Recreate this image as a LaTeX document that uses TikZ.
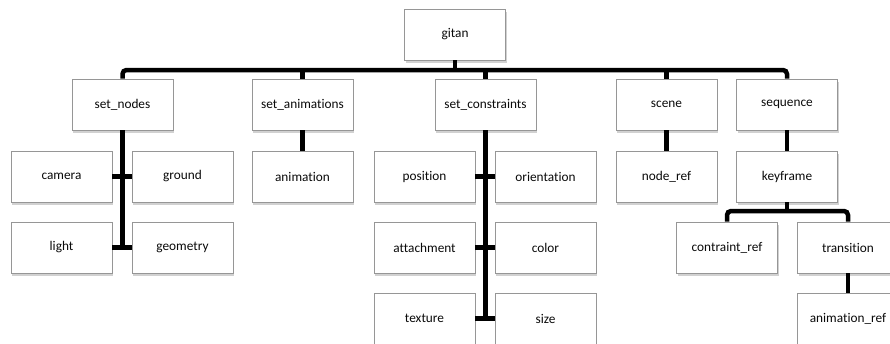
\documentclass[tikz,border=0pt]{standalone}
\usepackage{fontspec}
\setmainfont[Ligatures=NoCommon]{Carlito}
\usetikzlibrary{shadows}
\definecolor{boxborder}{RGB}{150,150,150}
\definecolor{txt}{RGB}{10,10,10}
\tikzset{
  box/.style={draw=boxborder, line width=0.8pt, fill=white, minimum width=101pt, minimum height=51pt,
    inner sep=0pt, font=\fontsize{13.3}{15}\selectfont, text=txt,
    drop shadow={shadow xshift=1pt, shadow yshift=-3pt, opacity=0.3, fill=black!60}},
  conn/.style={line width=4.5pt, black},
}
\begin{document}
\begin{tikzpicture}[x=1pt,y=-1pt]
\useasboundingbox (0,0) rectangle (890,343);
\clip (0,0) rectangle (890,343);
% level 0
\node[box] (gitan) at (455,34.5) {gitan};
% level 1
\node[box] (setnodes) at (122.5,104.5) {set\_nodes};
\node[box] (setanim) at (302.5,104.5) {set\_animations};
\node[box] (setcons) at (485.5,104.5) {set\_constraints};
\node[box] (scene) at (666.5,104.5) {scene};
\node[box] (sequence) at (787,104.5) {sequence};
% set_nodes children
\node[box] (camera) at (61.5,176.5) {camera};
\node[box] (ground) at (182.5,176.5) {ground};
\node[box] (light) at (61.5,247.5) {light};
\node[box] (geometry) at (182.5,247.5) {geometry};
% set_animations child
\node[box] (animation) at (302.5,176.5) {animation};
% set_constraints children
\node[box] (position) at (424.5,176.5) {position};
\node[box] (orientation) at (545.5,176.5) {orientation};
\node[box] (attachment) at (424.5,247.5) {attachment};
\node[box] (color) at (545.5,247.5) {color};
\node[box] (texture) at (424.5,318.5) {texture};
\node[box] (size) at (545.5,318.5) {size};
% scene child
\node[box] (noderef) at (666.5,176.5) {node\_ref};
% sequence children
\node[box] (keyframe) at (787,176.5) {keyframe};
\node[box] (contraintref) at (727,247.5) {contraint\_ref};
\node[box] (transition) at (848,247.5) {transition};
\node[box] (animref) at (848,318.5) {animation\_ref};
% connectors level 0-1
\coordinate (bar) at (455,70);
\draw[conn, rounded corners=4pt] (setnodes.north) |- (bar) -| (sequence.north);
\draw[conn] (gitan.south) -- (bar);
\draw[conn] (setanim.north) -- (setanim.north |- bar);
\draw[conn] (setcons.north) -- (setcons.north |- bar);
\draw[conn] (scene.north) -- (scene.north |- bar);
% set_nodes
\draw[conn] (setnodes.south) -- (setnodes.south |- light.east);
\draw[conn] (camera.east) -- (ground.west);
\draw[conn] (light.east) -- (geometry.west);
% set_animations
\draw[conn] (setanim.south) -- (animation.north);
% set_constraints
\draw[conn] (setcons.south) -- (setcons.south |- texture.east);
\draw[conn] (position.east) -- (orientation.west);
\draw[conn] (attachment.east) -- (color.west);
\draw[conn] (texture.east) -- (size.west);
% scene
\draw[conn] (scene.south) -- (noderef.north);
% sequence
\draw[conn] (sequence.south) -- (keyframe.north);
\coordinate (kbar) at (787,211);
\draw[conn, rounded corners=4pt] (contraintref.north) |- (kbar) -| (transition.north);
\draw[conn] (keyframe.south) -- (kbar);
\draw[conn] (transition.south) -- (animref.north);
\end{tikzpicture}
\end{document}
